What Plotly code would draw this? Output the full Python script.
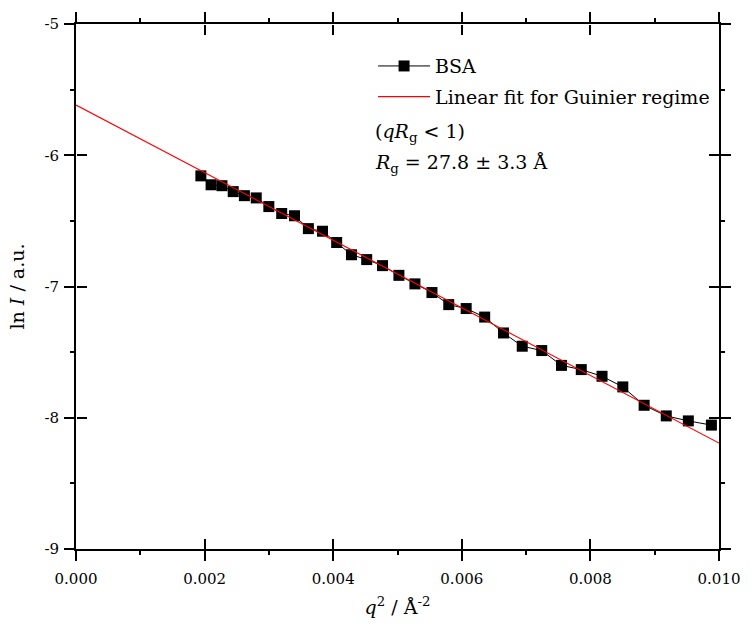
import plotly.graph_objects as go

# ---- data ----
q2 = [0.001942, 0.002101, 0.002270, 0.002445, 0.002619, 0.002803, 0.002999, 0.003199,
      0.003398, 0.003614, 0.003834, 0.004054, 0.004284, 0.004521, 0.004767, 0.005022,
      0.005271, 0.005536, 0.005797, 0.006068, 0.006356, 0.006648, 0.006940, 0.007243,
      0.007550, 0.007858, 0.008181, 0.008504, 0.008836, 0.009180, 0.009523, 0.009882]
ln_i = [-6.157, -6.225, -6.232, -6.277, -6.308, -6.325, -6.391, -6.444,
        -6.461, -6.559, -6.579, -6.665, -6.758, -6.795, -6.841, -6.915,
        -6.980, -7.046, -7.138, -7.168, -7.233, -7.354, -7.455, -7.488,
        -7.601, -7.633, -7.684, -7.765, -7.905, -7.986, -8.024, -8.056]

fit_intercept = -5.617
fit_slope = -257.6
fit_q2 = [0.0, 0.010]
fit_ln_i = [fit_intercept + fit_slope * v for v in fit_q2]

x_tick_vals = [0.000, 0.002, 0.004, 0.006, 0.008, 0.010]
x_tick_text = ["0.000", "0.002", "0.004", "0.006", "0.008", "0.010"]
x_minor_vals = [0.001, 0.003, 0.005, 0.007, 0.009]
y_tick_vals = [-9, -8, -7, -6, -5]
y_tick_text = ["-9", "-8", "-7", "-6", "-5"]
y_minor_vals = [-8.5, -7.5, -6.5, -5.5]

FONT = "DejaVu Serif"
X_RANGE = [0, 0.010]
Y_RANGE = [-9, -5]

fig = go.Figure()
fig.add_trace(go.Scatter(
    x=q2, y=ln_i, mode="lines+markers", name="BSA",
    line=dict(color="black", width=1),
    marker=dict(symbol="square", size=11, color="black"),
    legendgroup="a",
))
fig.add_trace(go.Scatter(
    x=fit_q2, y=fit_ln_i, mode="lines", name="Linear fit for Guinier regime",
    line=dict(color="#ff0000", width=1.2),
    legendgroup="b",
))
# empty helper traces so the inside-tick overlay axes are drawn
fig.add_trace(go.Scatter(x=[], y=[], xaxis="x2", yaxis="y2", showlegend=False, hoverinfo="skip"))
fig.add_trace(go.Scatter(x=[], y=[], xaxis="x3", yaxis="y3", showlegend=False, hoverinfo="skip"))

common = dict(showgrid=False, zeroline=False, linecolor="black",
              linewidth=2, tickcolor="black", tickwidth=2)

def inside_x(side, pos):
    return dict(range=X_RANGE, overlaying="x", anchor="free", position=pos, side=side,
                tickmode="array", tickvals=x_tick_vals, ticks="inside", ticklen=10,
                showticklabels=False, showline=False, **common)

def inside_y(side, pos):
    return dict(range=Y_RANGE, overlaying="y", anchor="free", position=pos, side=side,
                tickmode="array", tickvals=y_tick_vals, ticks="inside", ticklen=10,
                showticklabels=False, showline=False, **common)

fig.update_layout(
    width=752, height=631,
    margin=dict(l=76, r=26, t=19, b=82),
    paper_bgcolor="white", plot_bgcolor="white",
    font=dict(family=FONT, color="black"),
    showlegend=True,
    legend=dict(x=0.462, y=0.956, xanchor="left", yanchor="top",
                font=dict(family=FONT, size=19, color="black"),
                bgcolor="rgba(0,0,0,0)", borderwidth=0,
                traceorder="grouped", tracegroupgap=3, itemwidth=52),
    xaxis=dict(range=X_RANGE, tickmode="array", tickvals=x_tick_vals, ticktext=x_tick_text,
               ticks="outside", ticklen=10, mirror="allticks", showline=True,
               ticklabelstandoff=5,
               minor=dict(tickmode="array", tickvals=x_minor_vals, ticks="outside",
                          ticklen=4, tickwidth=2, tickcolor="black", showgrid=False),
               tickfont=dict(family=FONT, size=15),
               title=dict(text="<i>q</i><sup>2</sup> / Å<sup>-2</sup>",
                          font=dict(family=FONT, size=19), standoff=14),
               **common),
    yaxis=dict(range=Y_RANGE, tickmode="array", tickvals=y_tick_vals, ticktext=y_tick_text,
               ticks="outside", ticklen=10, mirror="allticks", showline=True,
               ticklabelstandoff=2,
               minor=dict(tickmode="array", tickvals=y_minor_vals, ticks="outside",
                          ticklen=4, tickwidth=2, tickcolor="black", showgrid=False),
               tickfont=dict(family=FONT, size=15),
               title=dict(text="ln <i>I</i> / a.u.",
                          font=dict(family=FONT, size=19), standoff=15),
               **common),
    xaxis2=inside_x("bottom", 0),
    yaxis2=inside_y("left", 0),
    xaxis3=inside_x("top", 1),
    yaxis3=inside_y("right", 1),
)

fig.add_annotation(x=0.004618, y=-5.83, xref="x", yref="y", xanchor="left", yanchor="middle",
                   text="(<i>qR</i><sub>g</sub> &lt; 1)", showarrow=False,
                   font=dict(family=FONT, size=19, color="black"))
fig.add_annotation(x=0.004618, y=-6.06, xref="x", yref="y", xanchor="left", yanchor="middle",
                   text="<i>R</i><sub>g</sub> = 27.8 ± 3.3 Å", showarrow=False,
                   font=dict(family=FONT, size=19, color="black"))

fig.write_html("out.html")
